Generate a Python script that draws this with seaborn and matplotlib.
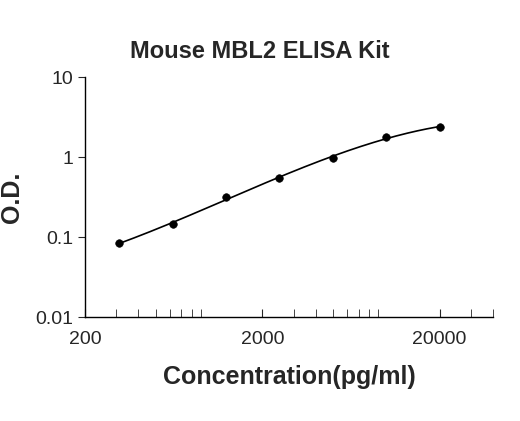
import numpy as np
import matplotlib
matplotlib.use("Agg")
import matplotlib.pyplot as plt
import seaborn as sns
import pandas as pd
from matplotlib.ticker import FixedLocator, LogLocator, NullFormatter

conc = [312.5, 625, 1250, 2500, 5000, 10000, 20000]
od = [0.084, 0.145, 0.316, 0.546, 0.98, 1.78, 2.37]
xticks = [200, 2000, 20000]
yticks = [0.01, 0.1, 1, 10]
ytick_labels = ["0.01", "0.1", "1", "10"]

sns.set_style("white")
plt.rcParams['font.family'] = ['Liberation Sans', 'DejaVu Sans']
df = pd.DataFrame({"conc": conc, "od": od})

fig = plt.figure(figsize=(5.2, 4.21), dpi=100)
ax = fig.add_axes([85/520, (421-317)/421, (493-85)/520, (317-77)/421])

lx = np.log10(conc); ly = np.log10(od)
coef = np.polyfit(lx, ly, 3)
xs = np.linspace(lx[0], lx[-1], 200)
ax.plot(10**xs, 10**np.polyval(coef, xs), color="black", lw=1.2)
sns.scatterplot(data=df, x="conc", y="od", ax=ax, color="black", s=30, edgecolor="black", zorder=3)

ax.set_xscale("log"); ax.set_yscale("log")
ax.set_xlim(200, 40000); ax.set_ylim(0.01, 10)
ax.xaxis.set_major_locator(FixedLocator(xticks))
ax.set_xticklabels([str(t) for t in xticks])
ax.xaxis.set_minor_locator(LogLocator(base=10, subs=np.arange(2, 10)))
ax.xaxis.set_minor_formatter(NullFormatter())
ax.yaxis.set_major_locator(FixedLocator(yticks))
ax.set_yticklabels(ytick_labels)
ax.yaxis.set_minor_locator(FixedLocator([]))
ax.tick_params(axis="x", which="both", direction="in", length=6, labelsize=14, pad=10, bottom=True)
ax.tick_params(axis="y", which="both", direction="out", length=5, labelsize=14, left=True)
for s in ["top", "right"]:
    ax.spines[s].set_visible(False)
for s in ["left", "bottom"]:
    ax.spines[s].set_color("black"); ax.spines[s].set_linewidth(1)
ax.set_xlabel("Concentration(pg/ml)", fontsize=18, fontweight="bold", labelpad=12)
ax.set_ylabel("O.D.", fontsize=18, fontweight="bold", labelpad=8)
fig.suptitle("Mouse MBL2 ELISA Kit", fontsize=17, fontweight="bold", y=0.905)
fig.savefig("out.png", dpi=100)
